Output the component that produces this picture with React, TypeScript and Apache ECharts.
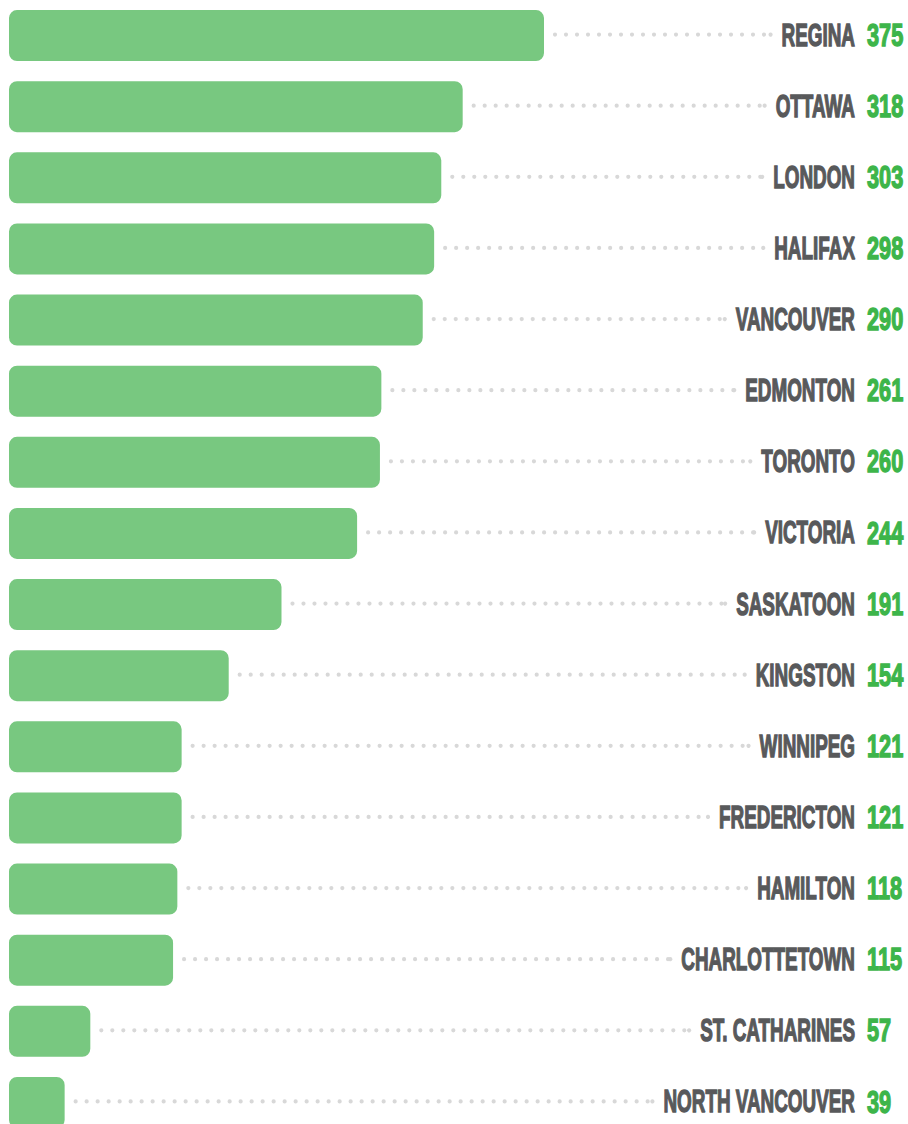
import React, { useEffect, useRef } from "react";
import * as echarts from "echarts";

const cities = [
  "REGINA", "OTTAWA", "LONDON", "HALIFAX", "VANCOUVER", "EDMONTON", "TORONTO", "VICTORIA",
  "SASKATOON", "KINGSTON", "WINNIPEG", "FREDERICTON", "HAMILTON", "CHARLOTTETOWN",
  "ST. CATHARINES", "NORTH VANCOUVER",
];
const values = [375, 318, 303, 298, 290, 261, 260, 244, 191, 154, 121, 121, 118, 115, 57, 39];

const NAME_FONT = 'bold 32px "Liberation Sans", Arial, sans-serif';
const NAME_SCALE = 0.59;
const VALUE_SCALE = 0.68;

let measureCtx: CanvasRenderingContext2D | null = null;
function measure(text: string, font: string) {
  if (!measureCtx) measureCtx = document.createElement("canvas").getContext("2d");
  measureCtx!.font = font;
  return measureCtx!.measureText(text).width;
}

export default function App() {
  const ref = useRef<HTMLDivElement>(null);
  useEffect(() => {
    const chart = echarts.init(ref.current!, null, { renderer: "svg" });
    const option: any = {
      animation: false,
      grid: { left: 9, top: -1, width: 856, height: 1139 },
      xAxis: { type: "value", min: 0, max: 600, show: false },
      yAxis: { type: "category", data: cities, inverse: true, show: false },
      series: [
        {
          type: "bar",
          data: values,
          barWidth: 51,
          itemStyle: { color: "#78c880", borderRadius: 8 },
          silent: true,
        },
        {
          type: "custom",
          data: values.map((v, i) => [v, i]),
          encode: { x: 0, y: 1 },
          renderItem: (params: any, api: any) => {
            const v = api.value(0);
            const idx = api.value(1);
            const p = api.coord([v, idx]);
            const cy = p[1] - 1;
            const name = cities[params.dataIndex];
            const nameRight = 855;
            const valueLeft = 867;
            const nameW = measure(name, NAME_FONT) * NAME_SCALE;
            const dotStart = p[0] + 11;
            const dotEnd = nameRight - nameW - 11;
            return {
              type: "group",
              children: [
                {
                  type: "line",
                  shape: { x1: dotStart, y1: cy, x2: dotEnd, y2: cy },
                  style: { stroke: "#d8d8d8", lineWidth: 4.2, lineDash: [0, 11], lineCap: "round" },
                },
                {
                  type: "circle",
                  shape: { cx: dotEnd, cy, r: 2.1 },
                  style: { fill: "#d8d8d8" },
                },
                {
                  type: "text",
                  x: nameRight,
                  y: cy,
                  scaleX: NAME_SCALE,
                  style: {
                    text: name,
                    x: 0,
                    y: 0,
                    align: "right",
                    verticalAlign: "middle",
                    fill: "#58595b",
                    stroke: "#58595b",
                    lineWidth: 1.4,
                    font: NAME_FONT,
                  },
                },
                {
                  type: "text",
                  x: valueLeft,
                  y: cy,
                  scaleX: VALUE_SCALE,
                  style: {
                    text: String(v),
                    x: 0,
                    y: 0,
                    align: "left",
                    verticalAlign: "middle",
                    fill: "#3db54a",
                    stroke: "#3db54a",
                    lineWidth: 1.4,
                    font: NAME_FONT,
                  },
                },
              ],
            };
          },
        },
      ],
    };
    chart.setOption(option);
    return () => chart.dispose();
  }, []);
  return (
    <div
      ref={ref}
      style={{ position: "absolute", left: 0, top: 0, width: 908, height: 1138 }}
    />
  );
}
